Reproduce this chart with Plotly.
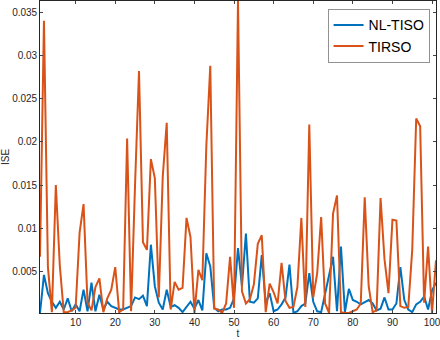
import plotly.graph_objects as go

t = list(range(1, 102))

nl_tiso = [0.0002, 0.0046, 0.0025, 0.0015, 0.0008, 0.0015, 0.0006, 0.0019, 0.0004, 0.0012,
           0.0004, 0.0029, 0.0004, 0.0037, 0.0004, 0.0023, 0.0006, 0.0015, 0.0010, 0.0008,
           0.0006, 0.0006, 0.0008, 0.0010, 0.0020, 0.0018, 0.0022, 0.0010, 0.0081, 0.0033,
           0.0014, 0.0006, 0.0029, 0.0009, 0.0011, 0.0008, 0.0003, 0.0009, 0.0015, 0.0007,
           0.0017, 0.0005, 0.0071, 0.0056, 0.0008, 0.0004, 0.0006, 0.0006, 0.0008, 0.0019,
           0.0077, 0.0033, 0.0094, 0.0015, 0.0014, 0.0019, 0.0069, 0.0013, 0.0025, 0.0004,
           0.0006, 0.0012, 0.0020, 0.0058, 0.0002, 0.0004, 0.0010, 0.0013, 0.0048, 0.0015,
           0.0004, 0.0003, 0.0025, 0.0048, 0.0067, 0.0004, 0.0079, 0.0003, 0.0030, 0.0017,
           0.0015, 0.0012, 0.0015, 0.0017, 0.0013, 0.0005, 0.0007, 0.0020, 0.0006, 0.0006,
           0.0013, 0.0055, 0.0017, 0.0006, 0.0003, 0.0012, 0.0015, 0.0021, 0.0006, 0.0028,
           0.0037]

tirso = [0.0067, 0.0340, 0.0055, 0.0003, 0.0150, 0.0057, 0.0003, 0.0003, 0.0005, 0.0008,
         0.0095, 0.0128, 0.0014, 0.0005, 0.0032, 0.0042, 0.0003, 0.0019, 0.0029, 0.0055,
         0.0003, 0.0006, 0.0204, 0.0004, 0.0150, 0.0282, 0.0084, 0.0075, 0.0180, 0.0158,
         0.0020, 0.0160, 0.0222, 0.0006, 0.0038, 0.0029, 0.0031, 0.0112, 0.0090, 0.0002,
         0.0052, 0.0040, 0.0195, 0.0288, 0.0007, 0.0006, 0.0002, 0.0013, 0.0067, 0.0008,
         0.0363, 0.0027, 0.0013, 0.0018, 0.0035, 0.0082, 0.0092, 0.0003, 0.0036, 0.0026,
         0.0013, 0.0060, 0.0016, 0.0008, 0.0009, 0.0032, 0.0112, 0.0009, 0.0220, 0.0020,
         0.0048, 0.0113, 0.0013, 0.0002, 0.0117, 0.0138, 0.0003, 0.0002, 0.0002, 0.0004,
         0.0006, 0.0013, 0.0136, 0.0033, 0.0003, 0.0005, 0.0135, 0.0064, 0.0025, 0.0110,
         0.0109, 0.0010, 0.0008, 0.0009, 0.0075, 0.0227, 0.0218, 0.0014, 0.0079, 0.0002,
         0.0063]

ytick_vals = [0.005, 0.01, 0.015, 0.02, 0.025, 0.03, 0.035]
ytick_text = ['0.005', '0.01', '0.015', '0.02', '0.025', '0.03', '0.035']
xtick_vals = [10, 20, 30, 40, 50, 60, 70, 80, 90, 100]

BLUE = '#0072BD'
ORANGE = '#D95319'
AX = '#262626'

fig = go.Figure()
fig.add_trace(go.Scatter(x=t, y=nl_tiso, mode='lines', name='NL-TISO',
                         line=dict(color=BLUE, width=2)))
fig.add_trace(go.Scatter(x=t, y=tirso, mode='lines', name='TIRSO',
                         line=dict(color=ORANGE, width=2)))

ymin = min(nl_tiso + tirso)
ymax = max(nl_tiso + tirso)

fig.update_layout(
    width=440, height=340,
    margin=dict(l=40, r=4, t=1, b=27, autoexpand=False),
    paper_bgcolor='white', plot_bgcolor='white',
    font=dict(family='Liberation Sans, Arial, sans-serif', color=AX, size=10),
    legend=dict(x=0.985, y=0.975, xanchor='right', yanchor='top',
                bgcolor='white', bordercolor='#262626', borderwidth=0.5,
                font=dict(size=14, color='black'), tracegroupgap=0,
                itemwidth=30),
    showlegend=True,
)
fig.update_xaxes(range=[1, 101], tickvals=xtick_vals, ticks='inside', ticklen=3,
                 showline=True, linecolor=AX, linewidth=0.6, mirror='ticks',
                 showgrid=False, zeroline=False, automargin=False,
                 ticklabeloverflow='allow',
                 title=dict(text='t', standoff=0, font=dict(size=10)))
fig.update_yaxes(range=[ymin, ymax], tickvals=ytick_vals, ticktext=ytick_text,
                 ticks='inside', ticklen=3,
                 showline=True, linecolor=AX, linewidth=0.6, mirror='ticks',
                 showgrid=False, zeroline=False, automargin=False,
                 title=dict(text='ISE', standoff=6, font=dict(size=10)))

fig.write_html('out.html', config={'displayModeBar': False},
               post_script="document.body.style.margin='0';")
